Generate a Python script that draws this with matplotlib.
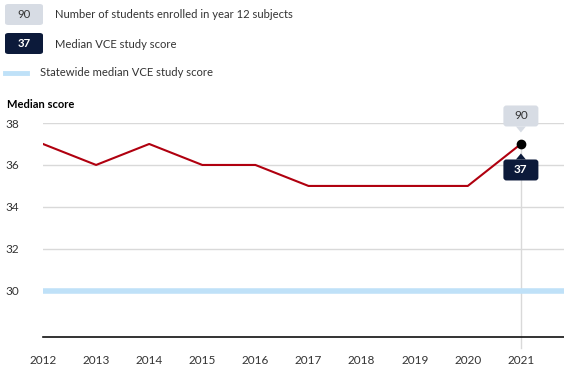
# Median VCE study score by year, with statewide median
import matplotlib
matplotlib.use('Agg')
import matplotlib.pyplot as plt
from matplotlib.patches import FancyBboxPatch, Polygon
from matplotlib.transforms import ScaledTranslation

plt.rcParams['font.family'] = ['Lato', 'DejaVu Sans']

years = [2012, 2013, 2014, 2015, 2016, 2017, 2018, 2019, 2020, 2021]
median = [37, 36, 37, 36, 36, 35, 35, 35, 35, 37]
statewide = 30
enrolled_last = 90
yticks = [30, 32, 34, 36, 38]

RED = '#b0000f'
BLUE = '#bfe1f8'
NAVY = '#0c1a3a'
LIGHT = '#d7dce4'
GRID = '#d9d9d9'
TXT = '#333333'

W, H = 564, 382
fig = plt.figure(figsize=(W / 100, H / 100), dpi=100)
ax = fig.add_axes([43 / W, 1 - 337 / H, 531 / W, (337 - 123) / H])
YMIN, YMAX = 27.8, 38


def fx(px):
    return px / W


def fy(py):
    return 1 - py / H


# legend at the top
def legend_box(x0, y0, w, h, label, face, color):
    fig.patches.append(FancyBboxPatch((fx(x0), fy(y0 + h)), w / W, h / H,
                                      boxstyle='round,pad=0,rounding_size=0.006',
                                      transform=fig.transFigure, fc=face, ec='none'))
    fig.text(fx(x0 + w / 2), fy(y0 + h / 2), label, ha='center', va='center',
             fontsize=8.2, color=color, fontweight='bold' if color == 'white' else 'normal')


legend_box(5, 4, 38, 21, str(enrolled_last), LIGHT, TXT)
fig.text(fx(55), fy(15), 'Number of students enrolled in year 12 subjects',
         fontsize=8.1, color=TXT, va='center')
legend_box(5, 33, 38, 21, str(median[-1]), NAVY, 'white')
fig.text(fx(55), fy(44), 'Median VCE study score', fontsize=8.1, color=TXT, va='center')
fig.add_artist(plt.Line2D([fx(5), fx(27)], [fy(73), fy(73)], color=BLUE, lw=3.5,
                          transform=fig.transFigure))
fig.text(fx(40), fy(73), 'Statewide median VCE study score', fontsize=8.1, color=TXT,
         va='center')
fig.text(fx(7), fy(105), 'Median score', fontsize=8, color='black',
         fontweight='bold', va='center')

# chart
ax.axhline(statewide, color=BLUE, lw=4, zorder=2)
ax.plot(years, median, color=RED, lw=1.5, zorder=3)
ax.axvline(years[-1], ymin=-0.05, ymax=(median[-1] - YMIN) / (YMAX - YMIN),
           color=GRID, lw=1, zorder=1, clip_on=False)
ax.plot([years[-1]], [median[-1]], 'o', color='black', ms=6, zorder=5)

ax.set_xlim(2012, 2022)
ax.set_ylim(YMIN, YMAX)
ax.set_yticks(yticks)
ax.set_xticks(years)
ax.grid(axis='y', color=GRID, lw=1)
ax.set_axisbelow(True)
for s in ['top', 'right', 'left']:
    ax.spines[s].set_visible(False)
ax.spines['bottom'].set_color('#111111')
ax.spines['bottom'].set_linewidth(1.2)
ax.tick_params(axis='both', length=0, labelsize=8.5, labelcolor=TXT)
ax.tick_params(axis='x', pad=13)
for lab in ax.get_yticklabels():
    lab.set_horizontalalignment('left')
ax.tick_params(axis='y', pad=27)

# tooltips at the last point
tr = fig.dpi_scale_trans + ScaledTranslation(years[-1], median[-1], ax.transData)


def tip(dy, w, h, label, face, color, up):
    # box centred dy px from the point (positive = above), with a pointer
    cy = dy / 100
    bw, bh = w / 100, h / 100
    ax.add_patch(FancyBboxPatch((-bw / 2, cy - bh / 2), bw, bh,
                                boxstyle='round,pad=0,rounding_size=0.03',
                                transform=tr, fc=face, ec='none', zorder=6, clip_on=False))
    edge = cy - bh / 2 if up else cy + bh / 2
    tipy = edge - 0.06 if up else edge + 0.06
    ax.add_patch(Polygon([(-0.05, edge), (0.05, edge), (0, tipy)], closed=True,
                         transform=tr, fc=face, ec='none', zorder=6, clip_on=False))
    ax.text(0, cy, label, transform=tr, ha='center', va='center', fontsize=8.5,
            color=color, zorder=7, fontweight='bold' if color == 'white' else 'normal')


tip(28, 35, 21, str(enrolled_last), LIGHT, TXT, True)
tip(-26, 35, 21, str(median[-1]), NAVY, 'white', False)

fig.savefig('out.png', dpi=100)
